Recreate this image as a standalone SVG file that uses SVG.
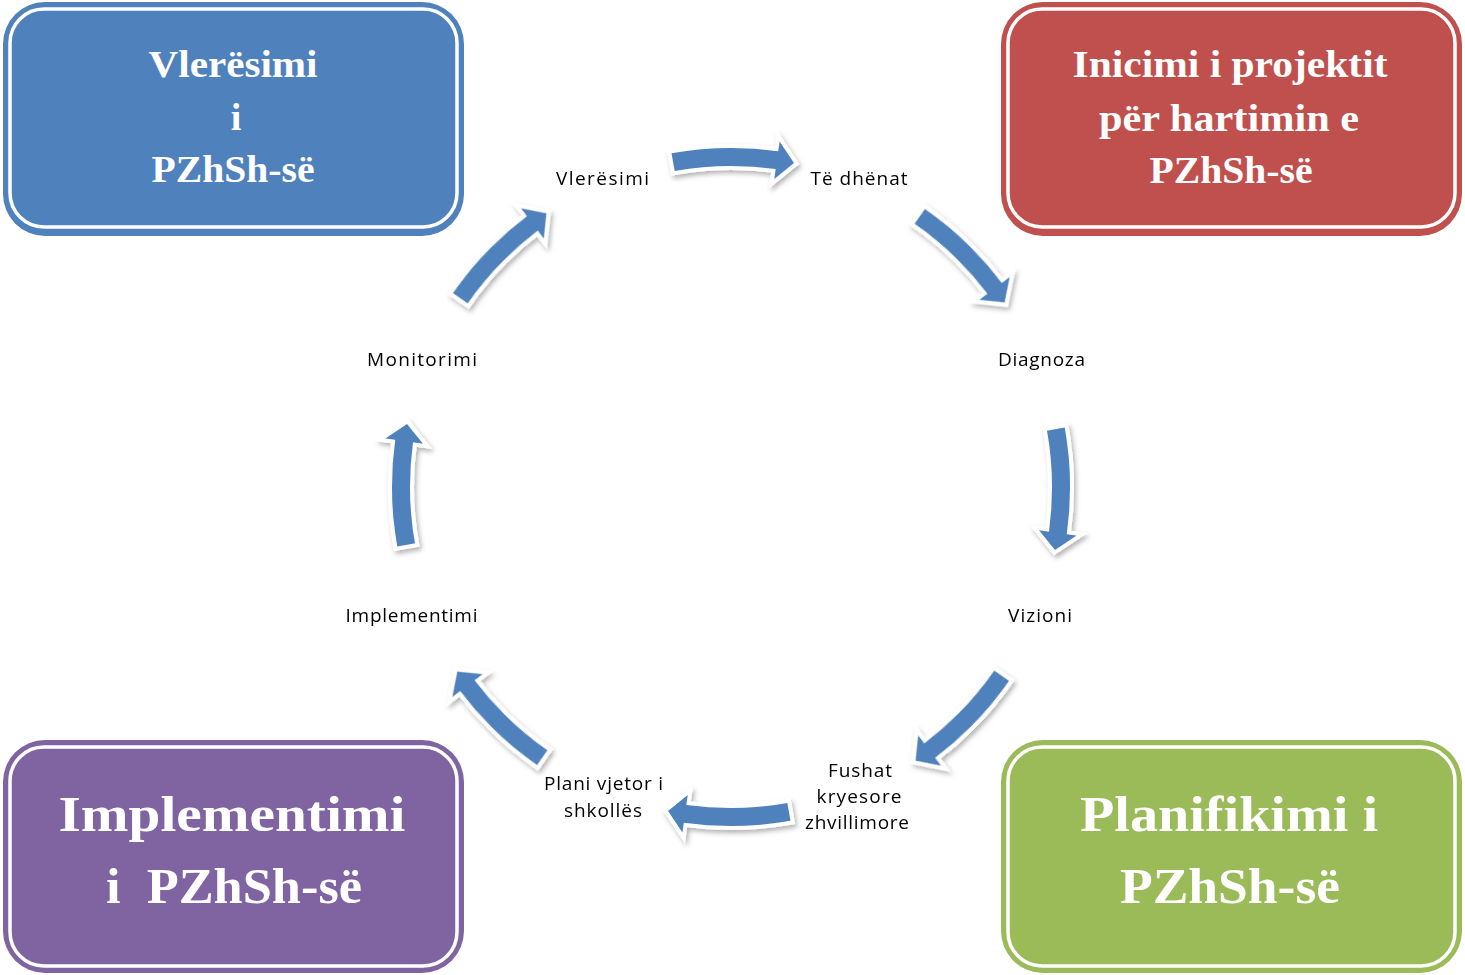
<svg xmlns="http://www.w3.org/2000/svg" width="1465" height="975" viewBox="0 0 1465 975">
<defs>
<style>
.box{stroke:none}
.inner{fill:none;stroke:#ffffff;stroke-width:3.5}
.title{font-family:"Liberation Serif","DejaVu Serif",serif;font-weight:bold;fill:#ffffff;text-anchor:middle}
.t1{font-size:38px}
.t2{font-size:50px}
.lbl{font-family:"Open Sans","Liberation Sans",Arial,sans-serif;font-size:19px;fill:#000000;text-anchor:middle}
.arrow{fill:#4F81BD;stroke:#ffffff;stroke-width:8;paint-order:stroke fill;stroke-linejoin:miter}
</style>
<filter id="sh" x="-30%" y="-30%" width="160%" height="160%">
<feDropShadow dx="2" dy="3" stdDeviation="2.5" flood-color="#000000" flood-opacity="0.3"/>
</filter>
<path id="arr" class="arrow" d="M-56.3,-316 A321,321 0 0 1 44.7,-317.9 L43.3,-308 L63,-323.9 L48.6,-345.6 L47.2,-335.7 A339,339 0 0 0 -59.5,-333.7 Z"/>
</defs>
<rect width="1465" height="975" fill="#ffffff"/>

<g id="node-vleresimi-box">
<rect class="box" x="3" y="2" width="461" height="234" rx="42" fill="#4F81BD"/>
<rect class="inner" x="10" y="9" width="447" height="218" rx="34"/>
<text class="title t1" x="233" y="77" textLength="169" lengthAdjust="spacingAndGlyphs">Vlerësimi</text>
<text class="title t1" x="236" y="130">i</text>
<text class="title t1" x="233" y="182" textLength="163" lengthAdjust="spacingAndGlyphs">PZhSh-së</text>
</g>

<g id="node-inicimi-box">
<rect class="box" x="1001" y="2" width="461" height="234" rx="42" fill="#C0504D"/>
<rect class="inner" x="1008" y="9" width="447" height="218" rx="34"/>
<text class="title t1" x="1230" y="77" textLength="315" lengthAdjust="spacingAndGlyphs">Inicimi i projektit</text>
<text class="title t1" x="1229" y="131" textLength="260" lengthAdjust="spacingAndGlyphs">për hartimin e</text>
<text class="title t1" x="1231" y="183" textLength="163" lengthAdjust="spacingAndGlyphs">PZhSh-së</text>
</g>

<g id="node-implementimi-box">
<rect class="box" x="3" y="740" width="461" height="233" rx="42" fill="#8064A2"/>
<rect class="inner" x="10" y="747" width="447" height="219" rx="34"/>
<text class="title t2" x="232" y="831" textLength="347" lengthAdjust="spacingAndGlyphs">Implementimi</text>
<text class="title t2" x="234" y="903" textLength="256" lengthAdjust="spacingAndGlyphs" style="white-space:pre">i  PZhSh-së</text>
</g>

<g id="node-planifikimi-box">
<rect class="box" x="1001" y="740" width="461" height="233" rx="42" fill="#9BBB59"/>
<rect class="inner" x="1008" y="747" width="447" height="219" rx="34"/>
<text class="title t2" x="1229" y="831" textLength="298" lengthAdjust="spacingAndGlyphs">Planifikimi i</text>
<text class="title t2" x="1230" y="903" textLength="220" lengthAdjust="spacingAndGlyphs">PZhSh-së</text>
</g>

<g id="connectors" filter="url(#sh)">
<use href="#arr" transform="translate(731,487) rotate(0)"/>
<use href="#arr" transform="translate(731,487) rotate(45)"/>
<use href="#arr" transform="translate(731,487) rotate(90)"/>
<use href="#arr" transform="translate(731,487) rotate(135)"/>
<use href="#arr" transform="translate(731,487) rotate(180)"/>
<use href="#arr" transform="translate(731,487) rotate(225)"/>
<use href="#arr" transform="translate(731,487) rotate(270)"/>
<use href="#arr" transform="translate(731,487) rotate(315)"/>
</g>

<g id="node-vleresimi"><text class="lbl" x="602.5" y="185" textLength="93">Vlerësimi</text></g>
<g id="node-te-dhenat"><text class="lbl" x="859" y="185" textLength="97">Të dhënat</text></g>
<g id="node-diagnoza"><text class="lbl" x="1041.5" y="366" textLength="87">Diagnoza</text></g>
<g id="node-vizioni"><text class="lbl" x="1040" y="622" textLength="64">Vizioni</text></g>
<g id="node-fushat">
<text class="lbl" x="860" y="777" textLength="64">Fushat</text>
<text class="lbl" x="859" y="803" textLength="85">kryesore</text>
<text class="lbl" x="857" y="829" textLength="104">zhvillimore</text>
</g>
<g id="node-plani">
<text class="lbl" x="603.5" y="790" textLength="119">Plani vjetor i</text>
<text class="lbl" x="603" y="817" textLength="78">shkollës</text>
</g>
<g id="node-implementimi"><text class="lbl" x="411.5" y="622" textLength="132">Implementimi</text></g>
<g id="node-monitorimi"><text class="lbl" x="422" y="366" textLength="110">Monitorimi</text></g>
</svg>
